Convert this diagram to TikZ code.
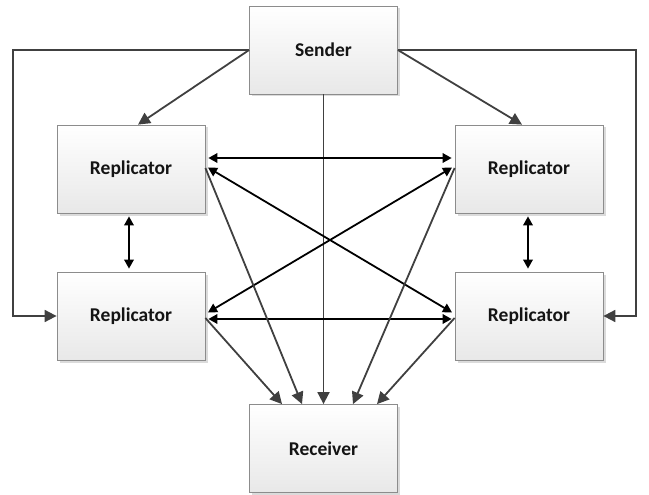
\documentclass[tikz,border=0pt]{standalone}
\usepackage{fontspec}
\setmainfont{Carlito}
\usetikzlibrary{arrows.meta,shadows}
\definecolor{boxline}{HTML}{8C8C8C}
\definecolor{garrow}{HTML}{404040}
\tikzset{
  box/.style={draw=boxline, line width=0.8pt, top color=white, bottom color=black!9,
    minimum width=148pt, minimum height=88pt, inner sep=0pt,
    font=\fontsize{19.5}{22}\selectfont\bfseries, text=black!92,
    drop shadow={shadow xshift=2.5pt, shadow yshift=-2.5pt, opacity=0.35, fill=black!40}},
  garr/.style={draw=garrow, line width=1.8pt, -{Triangle[length=12pt,width=12pt]}},
  barr/.style={draw=black, line width=1.8pt, {Triangle[length=9pt,width=9.5pt]}-{Triangle[length=9pt,width=9.5pt]}, shorten <=3pt, shorten >=3pt},
}
\begin{document}
\begin{tikzpicture}[x=1pt,y=-1pt]
\useasboundingbox (0,0) rectangle (649,495);
\node[box] (snd) at (323.5,50) {Sender};
\node[box] (tl) at (131,169) {Replicator};
\node[box] (bl) at (131,316) {Replicator};
\node[box] (tr) at (529,169) {Replicator};
\node[box] (br) at (529,316) {Replicator};
\node[box] (rec) at (323.5,448.5) {Receiver};
\coordinate (lc) at (13,50);
\coordinate (rc) at (636,50);
% sender outputs
\draw[garr] (snd.west) -- (lc) |- (bl.west);
\draw[garr] (snd.east) -- (rc) |- (br.east);
\draw[garr] (snd.west) -- ([xshift=7pt]tl.north);
\draw[garr] (snd.east) -- ([xshift=-7pt]tr.north);
\draw[garr] (snd.south) -- (rec.north);
% replicator exchanges
\draw[barr] ([yshift=11pt]tl.east) -- ([yshift=11pt]tr.west);
\draw[barr] ([yshift=-3pt]bl.east) -- ([yshift=-3pt]br.west);
\draw[barr] ([yshift=3pt]tl.east) -- ([yshift=2pt]br.west);
\draw[barr] ([yshift=3pt]tr.west) -- ([yshift=2pt]bl.east);
\draw[barr] ([xshift=-2pt]tl.south) -- ([xshift=-2pt]bl.north);
\draw[barr] ([xshift=-1pt]tr.south) -- ([xshift=-1pt]br.north);
% to receiver
\draw[garr] ([yshift=1pt]tl.east) -- ([xshift=-21.5pt]rec.north);
\draw[garr] ([yshift=-2pt]bl.east) -- ([xshift=-41.5pt]rec.north);
\draw[garr] ([yshift=1pt]tr.west) -- ([xshift=29.5pt]rec.north);
\draw[garr] ([yshift=-2pt]br.west) -- ([xshift=53.5pt]rec.north);
\end{tikzpicture}
\end{document}
